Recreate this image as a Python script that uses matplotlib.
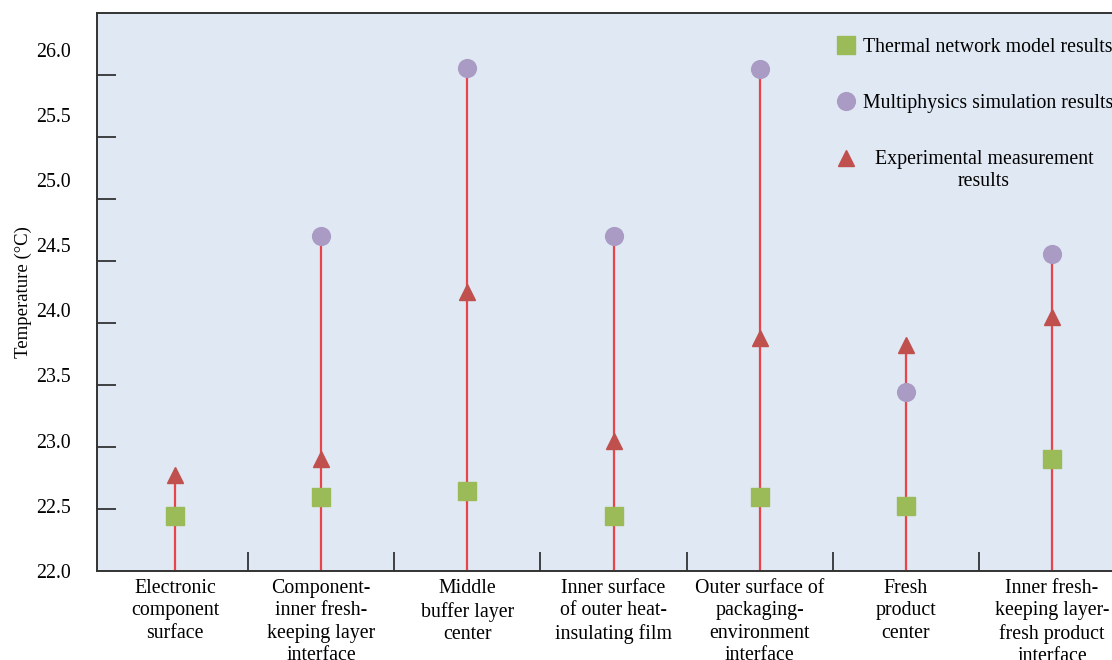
import numpy as np
import matplotlib.pyplot as plt

plt.rcParams['font.family'] = ['Liberation Serif', 'DejaVu Serif']

# measuring points along the package cross-section
positions = ['Electronic\ncomponent\nsurface',
             'Component-\ninner fresh-\nkeeping layer\ninterface',
             'Middle\nbuffer layer\ncenter',
             'Inner surface\nof outer heat-\ninsulating film',
             'Outer surface of\npackaging-\nenvironment\ninterface',
             'Fresh\nproduct\ncenter',
             'Inner fresh-\nkeeping layer-\nfresh product\ninterface']

# temperatures in degC
thermal_network = [22.42, 22.57, 22.61, 22.42, 22.57, 22.50, 22.86]
multiphysics = [np.nan, 24.57, 25.86, 24.57, 25.85, 23.37, 24.43]
experiment = [22.74, 22.86, 24.14, 23.00, 23.79, 23.73, 23.95]

y_labels = ['22.0', '22.5', '23.0', '23.5', '24.0', '24.5', '25.0', '25.5', '26.0']

y_min, y_max = 22.0, 26.28
x = np.arange(len(positions))

fig = plt.figure(figsize=(11.12, 6.6), dpi=100)
ax = fig.add_axes([0.0872, 0.1348, 0.9128, 0.8455])
ax.set_facecolor('#dfe8f3')

# red stems from the axis floor up to the highest reading at each point
tops = np.nanmax(np.vstack([thermal_network, multiphysics, experiment]), axis=0)
ax.vlines(x, y_min, tops, color='#e8444a', linewidth=1.6, zorder=2)

ax.plot(x, thermal_network, 's', color='#9bbb59', markersize=12.5,
        label='Thermal network model results', zorder=3)
ax.plot(x, multiphysics, 'o', color='#a99bc4', markersize=12.8,
        label='Multiphysics simulation results', zorder=3)
ax.plot(x, experiment, '^', color='#c0504d', markersize=12,
        label='Experimental measurement\nresults', zorder=4)

ax.set_xlim(-0.534, 6.41)
ax.set_ylim(y_min, y_max)

ax.set_xticks(x, positions, fontsize=14.3, linespacing=1.22)
ax.set_xticks(np.arange(0.5, 6, 1), minor=True)
ax.set_yticks(np.arange(22, 26.01, 0.5), y_labels, fontsize=14.3)
ax.set_yticks(np.linspace(y_min, y_max, 10)[1:-1], minor=True)

ax.tick_params(axis='both', which='major', length=0)
ax.tick_params(axis='x', which='major', pad=6)
ax.tick_params(axis='y', which='major', pad=19)
ax.tick_params(axis='both', which='minor', direction='in', length=14,
               width=1.3, color='#333333')

ax.set_ylabel('Temperature (°C)', fontsize=13.5, labelpad=3)

for side in ['left', 'bottom', 'top']:
    ax.spines[side].set_color('#333333')
    ax.spines[side].set_linewidth(1.4)
ax.spines['right'].set_visible(False)

leg = ax.legend(loc='upper left', bbox_to_anchor=(0.728, 0.955), frameon=False,
                fontsize=14.3, handlelength=1.0, handletextpad=0.35,
                labelspacing=1.85, borderpad=0, borderaxespad=0)
# two-line entry: centred lines, nudged right, marker level with first line
leg.texts[2].set_multialignment('center')
leg.texts[2].set_linespacing(1.25)
leg.texts[2].set_x(12)
tri = leg.legend_handles[2]
tri.set_ydata(np.asarray(tri.get_ydata()) + 9)

fig.savefig('out.png', dpi=100)
